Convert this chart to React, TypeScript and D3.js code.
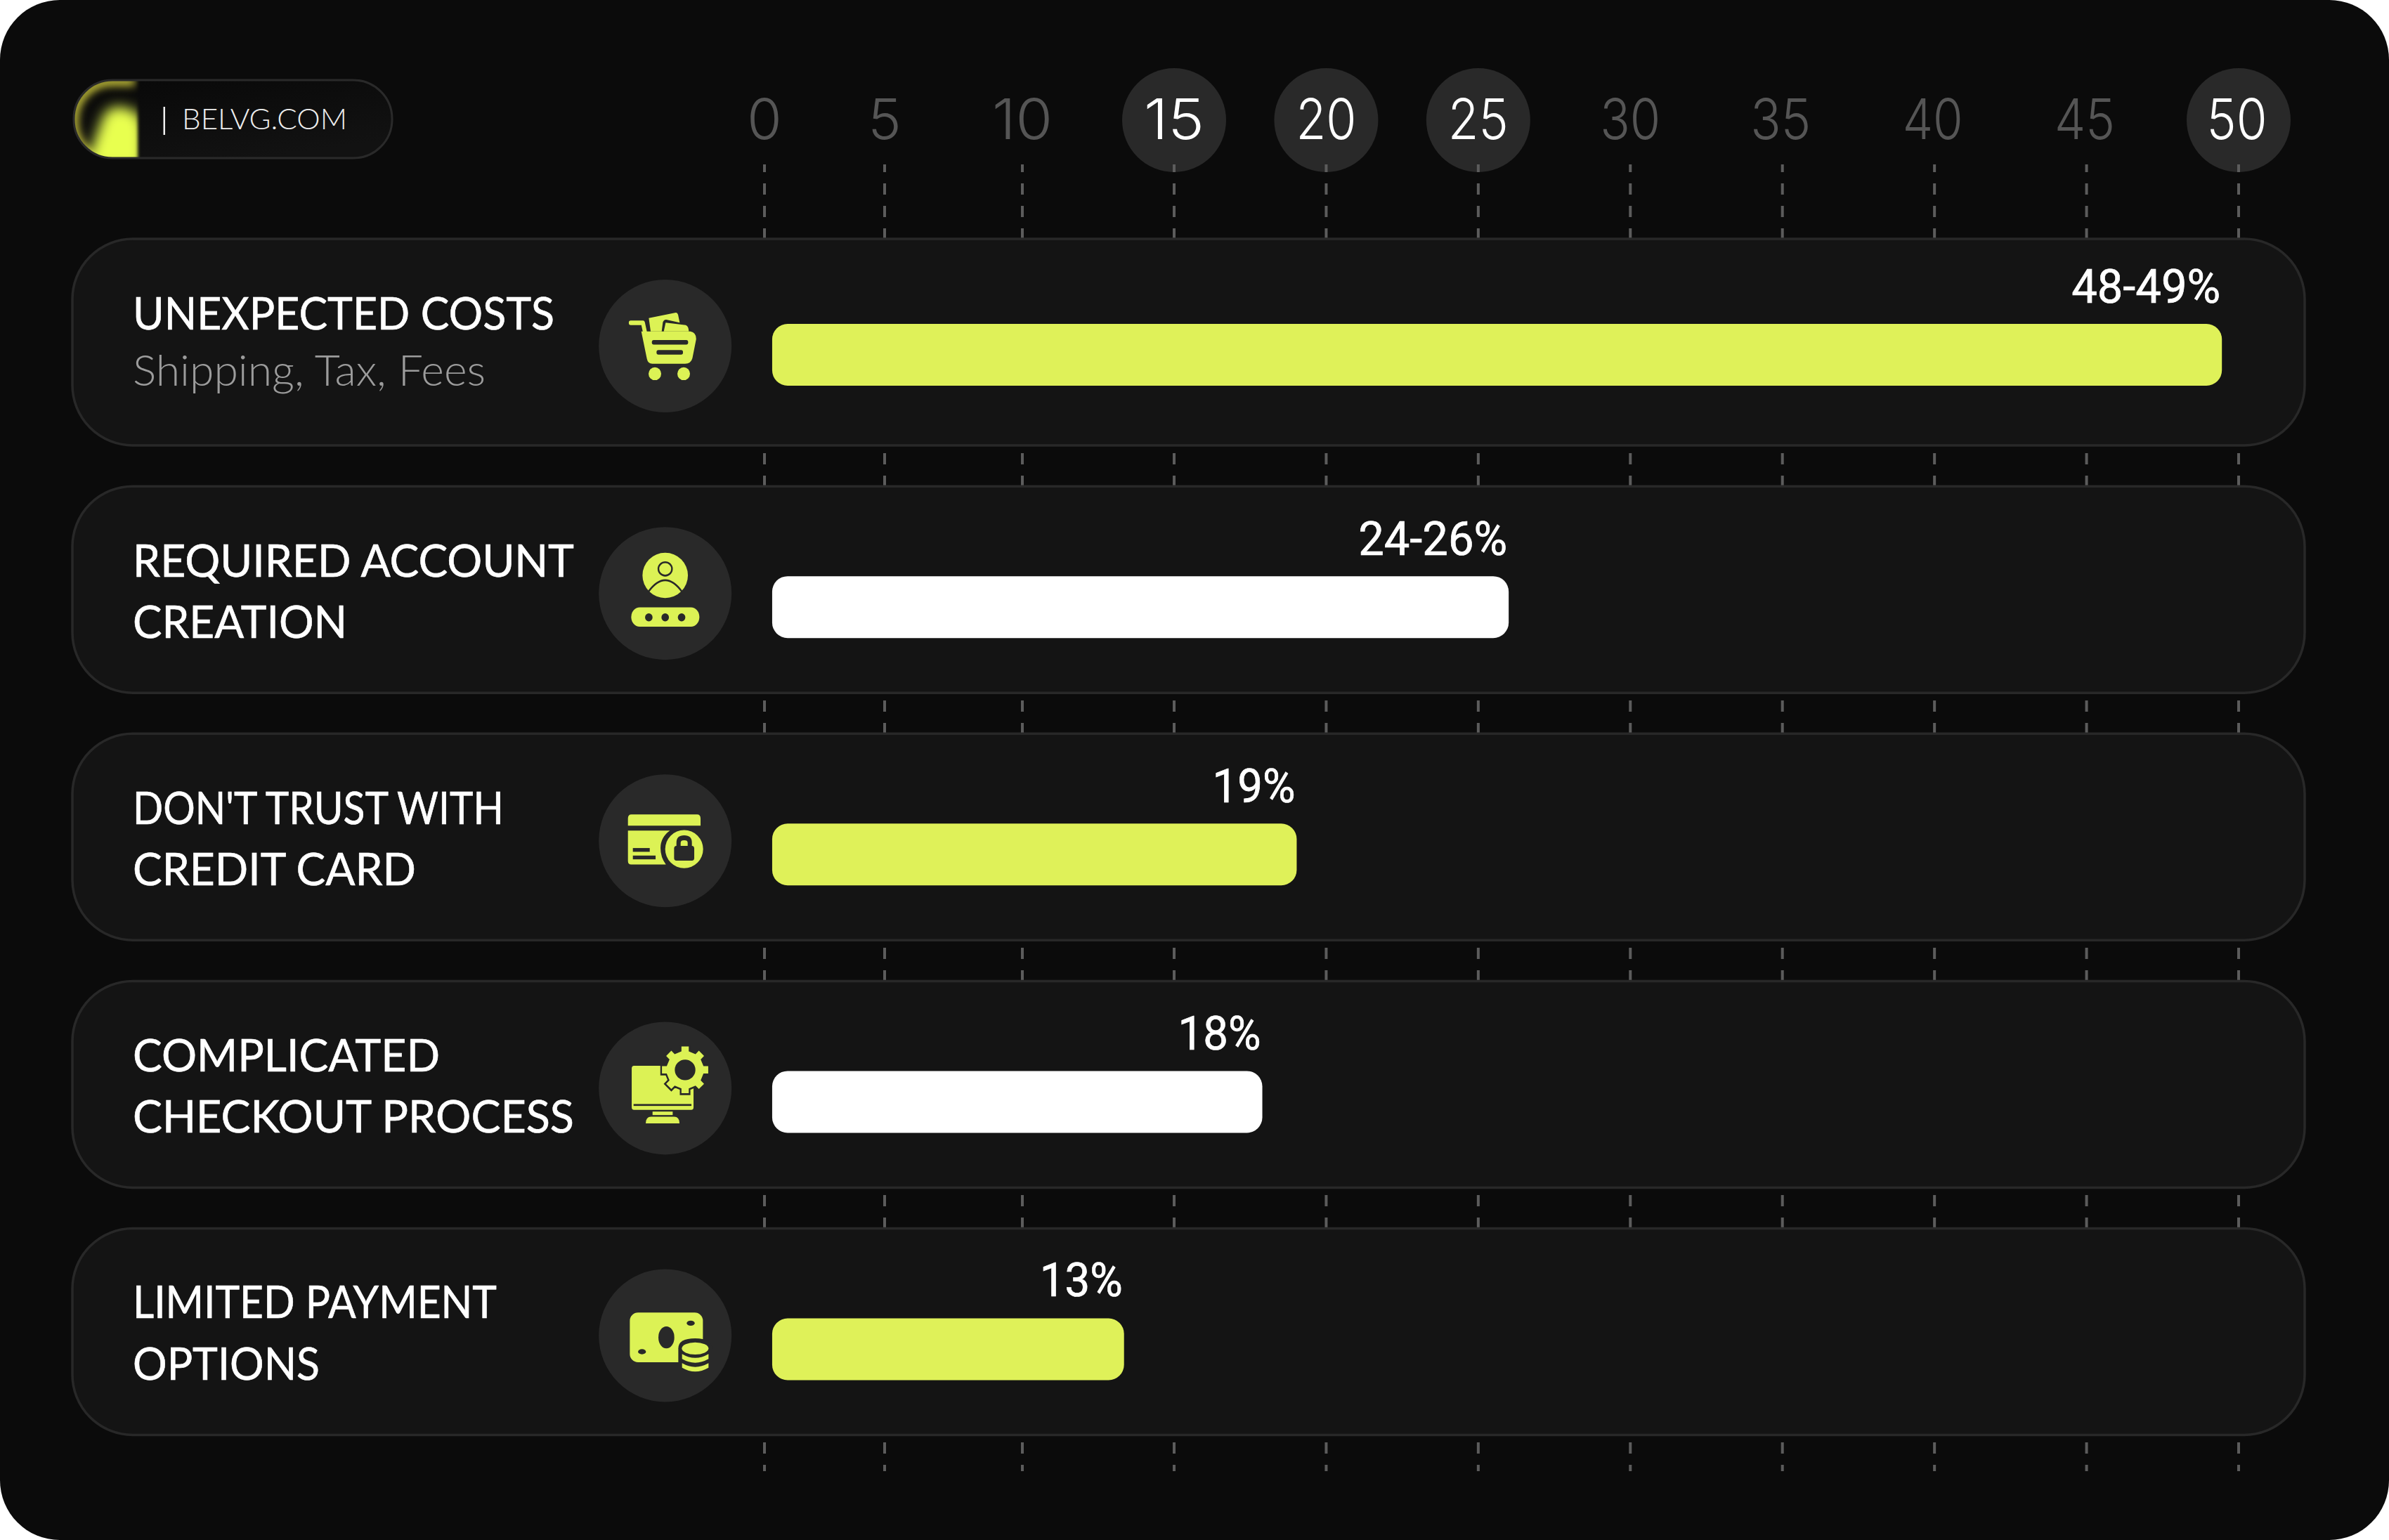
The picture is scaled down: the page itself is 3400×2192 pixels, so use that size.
import React from "react";
import * as d3 from "d3";

const TICKS = [0, 5, 10, 15, 20, 25, 30, 35, 40, 45, 50];
const HIGHLIGHTED_TICKS = [15, 20, 25, 50];
const CATEGORY_LINE_1 = ["UNEXPECTED COSTS", "REQUIRED ACCOUNT", "DON'T TRUST WITH", "COMPLICATED", "LIMITED PAYMENT"];
const CATEGORY_LINE_2 = ["Shipping, Tax, Fees", "CREATION", "CREDIT CARD", "CHECKOUT PROCESS", "OPTIONS"];
const BAR_VALUES = [49.45, 26, 19.03, 17.9, 13.35];
const VALUE_LABELS = ["48-49%", "24-26%", "19%", "18%", "13%"];
const ICONS = ["cart", "user", "card", "monitor", "money"];
const BRAND = "BELVG.COM";

const W = 3400, H = 2192;
const YELLOW = "#DFF159", ICON = "#DCF255", CIRCLE = "#292929";
const LINE1_W = [600, 628, 528, 437, 518];
const LINE2_W = [502, 305, 403, 628, 266];
const LABEL_W = [212, 212, 118, 118, 118];
const BAR_OFFSET = [121, 128, 128, 128, 128];
const LINE1_Y = [128.5, 128.5, 128.5, 128.5, 127.5];
const LINE2_Y = [209, 216, 216, 216, 215];
const LABEL_Y = [30, 30, 30, 30, 32];

const x = d3.scaleLinear().domain([0, 5, 10, 15, 50]).range([1088, 1259, 1455, 1671, 3186]);
const rowY = d3.scaleLinear().domain([0, 4]).range([340, 1748.5]);
const BAR_BASE = 0.32;
const FONT_A = "Lato";
const FONT_B = "Roboto";
const FONT_T = "Inter";

function gearPath(cx: number, cy: number, rx: number, ry: number, irx: number, iry: number, n: number) {
  const step = (Math.PI * 2) / n;
  const pts: [number, number][] = [];
  for (let i = 0; i < n; i++) {
    const a = i * step;
    const w = step * 0.2;
    const p = (ang: number, k: number): [number, number] => [cx + Math.cos(ang) * rx * k, cy + Math.sin(ang) * ry * k];
    pts.push(p(a - w * 1.25, irx / rx), p(a - w, 1), p(a + w, 1), p(a + w * 1.25, irx / rx));
  }
  return "M" + pts.map((q) => q.join(",")).join("L") + "Z";
}

function Icon({ kind, cx, cy }: { kind: string; cx: number; cy: number }) {
  const d = CIRCLE;
  const sx = 1 / 3;
  const sy = kind === "money" ? 1 / 3 : 1 / 2.613;
  const origins: Record<string, [number, number]> = {
    cart: [440, 294], user: [440, 1214], card: [440, 303], monitor: [440, 1223], money: [440, 420],
  };
  const [ox, oy] = origins[kind];
  return (
    <g transform={`translate(${cx},${cy}) scale(${sx},${sy}) translate(${-ox},${-oy})`}>
      {kind === "cart" && (
        <g fill={ICON}>
          <path d="M370 190 L485 170 Q492 169 495 178 L502 207 L445 196 Q434 195 430 206 L425 240 L378 240 Z" />
          <path d="M442 207 L528 216 Q540 220 541 240 L434 240 Z" />
          <path d="M338 240 L362 342 Q366 360 385 360 L525 360 Q550 360 556 340 L572 270 Q574 245 548 240 Z" />
          <path d="M293 208 L345 208 L368 300" fill="none" stroke={ICON} strokeWidth={17} strokeLinecap="round" strokeLinejoin="round" />
          <rect x={383} y={272} width={155} height={17} rx={8} fill={d} />
          <rect x={403} y={309} width={113} height={17} rx={8} fill={d} />
          <ellipse cx={396} cy={397} rx={27} ry={24} />
          <ellipse cx={519} cy={397} rx={27} ry={24} />
        </g>
      )}
      {kind === "user" && (
        <g>
          <ellipse cx={440} cy={1147} rx={97} ry={84} fill={ICON} />
          <ellipse cx={440} cy={1123} rx={29} ry={25} fill="none" stroke={d} strokeWidth={7} />
          <path d="M368 1208 Q 440 1122 512 1208" fill="none" stroke={d} strokeWidth={7} />
          <rect x={295} y={1266} width={291} height={72} rx={36} fill={ICON} />
          {[370, 440, 510].map((c) => <ellipse key={c} cx={c} cy={1303} rx={16} ry={15} fill={d} />)}
        </g>
      )}
      {kind === "card" && (
        <g fill={ICON}>
          <path d="M281 247 L281 220 Q281 205 296 205 L576 205 Q591 205 591 220 L591 247 Z" />
          <path d="M281 265 L460 265 Q420 290 420 330 Q420 365 443 391 L295 391 Q281 391 281 378 Z" />
          <rect x={302} y={330} width={72} height={14} fill={d} />
          <rect x={302} y={358} width={97} height={14} fill={d} />
          <ellipse cx={521} cy={334} rx={81} ry={71} />
          <path d="M497 325 L497 310 Q497 292 521 292 Q545 292 545 310 L545 325" fill="none" stroke={d} strokeWidth={18} />
          <rect x={478} y={322} width={86} height={55} rx={10} fill={d} />
        </g>
      )}
      {kind === "monitor" && (
        <g fill={ICON}>
          <rect x={297} y={1140} width={264} height={164} rx={10} />
          <rect x={305} y={1282} width={247} height={7} fill={d} />
          <rect x={386} y={1310} width={86} height={13} />
          <path d="M357 1354 Q357 1329 380 1329 L478 1329 Q501 1329 501 1354 Z" />
          <path d={gearPath(525, 1155, 100, 88, 80, 70, 8)} stroke={d} strokeWidth={14} paintOrder="stroke" />
          <ellipse cx={525} cy={1155} rx={44} ry={38} fill={d} />
        </g>
      )}
      {kind === "money" && (
        <g fill={ICON}>
          <rect x={289} y={322} width={312} height={212} rx={35} />
          <ellipse cx={445} cy={428} rx={34} ry={47} fill={d} />
          <ellipse cx={549} cy={367} rx={17} ry={11} fill={d} />
          <ellipse cx={341} cy={489} rx={17} ry={11} fill={d} />
          <path d="M496 475 Q496 432 568 432 Q640 432 640 475 L640 600 L496 600 Z" fill={d} />
          <ellipse cx={568} cy={475} rx={57} ry={26} />
          <path d="M512 499 Q568 532 625 499 L625 520 Q568 552 512 520 Z" />
          <path d="M512 538 Q568 570 625 538 L625 557 Q568 590 512 557 Z" />
        </g>
      )}
    </g>
  );
}

export default function App() {
  return (
    <svg width={W} height={H} viewBox={`0 0 ${W} ${H}`} style={{ position: "absolute", left: 0, top: 0, display: "block" }}>
      <defs>
        <clipPath id="pill"><rect x={105} y={114} width={453} height={111} rx={55} /></clipPath>
        <clipPath id="blobClip"><rect x={100} y={110} width={96} height={120} /></clipPath>
        <filter id="blurA" x="-50%" y="-50%" width="200%" height="200%"><feGaussianBlur stdDeviation="9" /></filter>
        <filter id="blurB" x="-50%" y="-50%" width="200%" height="200%"><feGaussianBlur stdDeviation="2" /></filter>
        <filter id="blurC" x="-50%" y="-50%" width="200%" height="200%"><feGaussianBlur stdDeviation="6" /></filter>
        <linearGradient id="pillFill" x1="0" y1="0" x2="0.6" y2="1">
          <stop offset="0" stopColor="#080808" />
          <stop offset="1" stopColor="#121212" />
        </linearGradient>
      </defs>
      <rect width={W} height={H} fill="#fff" />
      <rect width={W} height={H} rx={85} fill="#0B0B0B" />

      {/* pill */}
      <rect x={105} y={114} width={453} height={111} rx={55} fill="url(#pillFill)" />
      <g clipPath="url(#pill)">
        <g filter="url(#blurB)">
          <g clipPath="url(#blobClip)">
            <path d="M192 116 L160 116 A55 55 0 0 0 105 170 A55 55 0 0 0 135 224" fill="none" stroke="#D2CE3E" strokeWidth={12} filter="url(#blurC)" />
            <path d="M165 152 Q205 152 205 190 L205 240 L122 240 Q132 205 142 180 Q148 154 165 152 Z" fill="#E8FF50" filter="url(#blurA)" />
          </g>
        </g>
      </g>
      <rect x={105} y={114} width={453} height={111} rx={55} fill="none" stroke="#2A2A2A" strokeWidth={3} />
      <rect x={232.5} y={152} width={2.5} height={40} fill="#eee" />
      <text x={259} y={184} fontFamily={FONT_A} fontWeight={300} fontSize={41} fill="#EDEDED" textLength={235} lengthAdjust="spacingAndGlyphs">{BRAND}</text>

      {/* axis */}
      {TICKS.map((t) => {
        const on = HIGHLIGHTED_TICKS.includes(t);
        return (
          <g key={t}>
            {on && <circle cx={x(t)} cy={171} r={74} fill={CIRCLE} />}
            <line x1={x(t)} x2={x(t)} y1={234} y2={2094} stroke="#5C5C5C" strokeWidth={4} strokeDasharray="16 16" strokeDashoffset={5} />
            <text x={x(t) - (t > 30 ? 2.5 : 0)} y={198} textAnchor="middle" fontFamily={FONT_T} fontWeight={300} fontSize={80} fill={on ? "#fff" : "#555"}
              textLength={String(t).length > 1 ? 86 : undefined} lengthAdjust="spacingAndGlyphs">{t}</text>
          </g>
        );
      })}

      {/* rows */}
      {BAR_VALUES.map((v, i) => {
        const top = rowY(i);
        const bx = x(BAR_BASE);
        const bw = x(v) - bx;
        const by = top + BAR_OFFSET[i];
        const cy = top + 152.5;
        const isSub = i === 0;
        return (
          <g key={i}>
            <rect x={103} y={top} width={3177} height={294} rx={86} fill="#141414" stroke="#282828" strokeWidth={3.5} />
            <text x={189} y={top + LINE1_Y[i]} fontFamily={FONT_A} fontSize={64} fill="#fff" stroke="#fff" strokeWidth={0.6} textLength={LINE1_W[i]} lengthAdjust="spacingAndGlyphs">{CATEGORY_LINE_1[i]}</text>
            <text x={189} y={top + LINE2_Y[i]} fontFamily={FONT_A} fontSize={isSub ? 62 : 64} fontWeight={isSub ? 300 : 400} fill={isSub ? "#9C9C9C" : "#fff"} stroke={isSub ? "none" : "#fff"} strokeWidth={0.6} textLength={LINE2_W[i]} lengthAdjust="spacingAndGlyphs">{CATEGORY_LINE_2[i]}</text>
            <circle cx={946.7} cy={cy} r={94.5} fill={CIRCLE} />
            <Icon kind={ICONS[i]} cx={946.7} cy={cy} />
            <rect x={bx} y={by} width={bw} height={88} rx={22} fill={i % 2 === 0 ? YELLOW : "#fff"} />
            <text x={bx + bw - 2} y={by - LABEL_Y[i]} textAnchor="end" fontFamily={FONT_B} fontWeight={400} fontSize={66} fill="#fff" stroke="#fff" strokeWidth={0.7} textLength={LABEL_W[i]} lengthAdjust="spacingAndGlyphs">{VALUE_LABELS[i]}</text>
          </g>
        );
      })}
    </svg>
  );
}
